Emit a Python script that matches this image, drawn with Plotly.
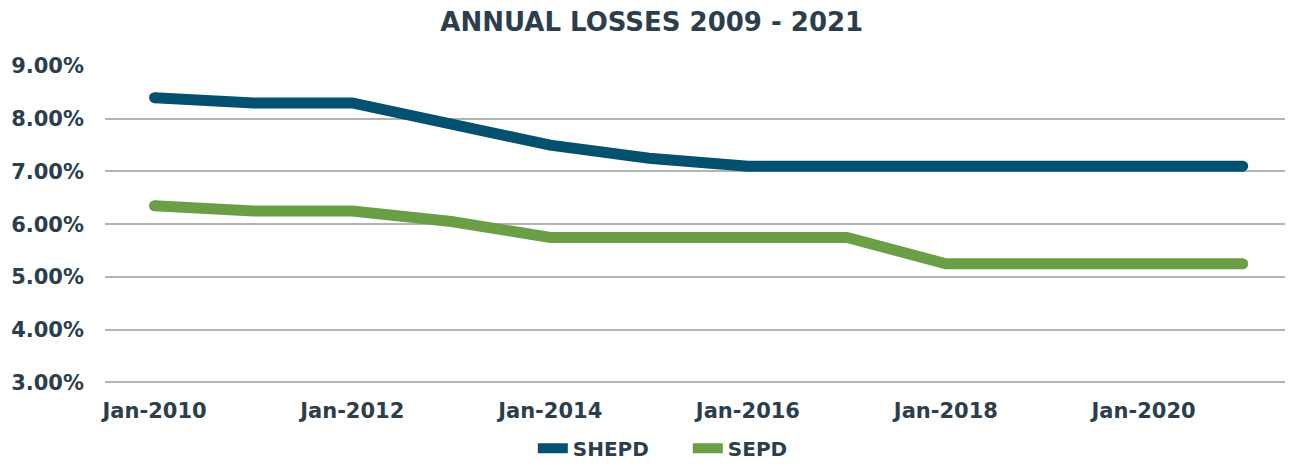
import plotly.graph_objects as go

# Annual losses (%), one value per year
years = ["2010-01-01", "2011-01-01", "2012-01-01", "2013-01-01", "2014-01-01", "2015-01-01",
         "2016-01-01", "2017-01-01", "2018-01-01", "2019-01-01", "2020-01-01", "2021-01-01"]
shepd = [8.40, 8.30, 8.30, 7.90, 7.50, 7.25, 7.10, 7.10, 7.10, 7.10, 7.10, 7.10]
sepd = [6.35, 6.25, 6.25, 6.05, 5.75, 5.75, 5.75, 5.75, 5.25, 5.25, 5.25, 5.25]

tick_dates = ["2010-01-01", "2012-01-01", "2014-01-01", "2016-01-01", "2018-01-01", "2020-01-01"]
tick_labels = ["Jan-2010", "Jan-2012", "Jan-2014", "Jan-2016", "Jan-2018", "Jan-2020"]
y_ticks = [3, 4, 5, 6, 7, 8, 9]

text_col = "#2b3e4c"
cols = {"SHEPD": "#03506f", "SEPD": "#6a9f45"}
fnt = "DejaVu Sans"

fig = go.Figure()
for name, vals in [("SHEPD", shepd), ("SEPD", sepd)]:
    fig.add_trace(
        go.Scatter(
            x=years,
            y=vals,
            name="<b>%s</b>" % name,
            mode="lines",
            line=dict(color=cols[name], width=11),
            hovertemplate="%{y:.2f}%<extra>" + name + "</extra>",
        )
    )
    # round-ish end caps
    fig.add_trace(
        go.Scatter(
            x=[years[0], years[-1]],
            y=[vals[0], vals[-1]],
            mode="markers",
            marker=dict(color=cols[name], size=11),
            showlegend=False,
            hoverinfo="skip",
        )
    )

# the page body adds an 8px offset, so the figure is 8px smaller than the window
fig.update_layout(
    width=1285,
    height=460,
    margin=dict(l=97, r=1, t=58, b=84, autoexpand=False),
    paper_bgcolor="white",
    plot_bgcolor="white",
    font=dict(family=fnt, color=text_col, size=18),
    title=dict(
        text="<b>ANNUAL LOSSES 2009 - 2021</b>",
        x=0.501,
        xanchor="center",
        y=0.969,
        yanchor="middle",
        font=dict(size=26, color=text_col, family=fnt),
    ),
    showlegend=True,
    legend=dict(
        orientation="h",
        x=0.491,
        xanchor="center",
        y=-0.263,
        yanchor="bottom",
        font=dict(size=20, color=text_col),
        traceorder="normal",
        entrywidth=110,
    ),
)
fig.update_xaxes(
    type="date",
    range=["2009-07-02", "2021-07-02"],
    tickvals=tick_dates,
    ticktext=["<b>%s</b>" % t for t in tick_labels],
    tickfont=dict(size=21),
    showgrid=False,
    showline=False,
    zeroline=False,
    ticks="",
    ticklabelstandoff=12,
    automargin=False,
)
fig.update_yaxes(
    range=[2.97, 9.0],
    tickvals=y_ticks,
    ticktext=["<b>%.2f%%</b>" % v for v in y_ticks],
    tickfont=dict(size=21),
    showgrid=True,
    gridcolor="#b4b4b4",
    gridwidth=1.5,
    zeroline=False,
    showline=False,
    ticks="",
    ticklabelstandoff=20,
    automargin=False,
)

fig.write_html("out.html")
